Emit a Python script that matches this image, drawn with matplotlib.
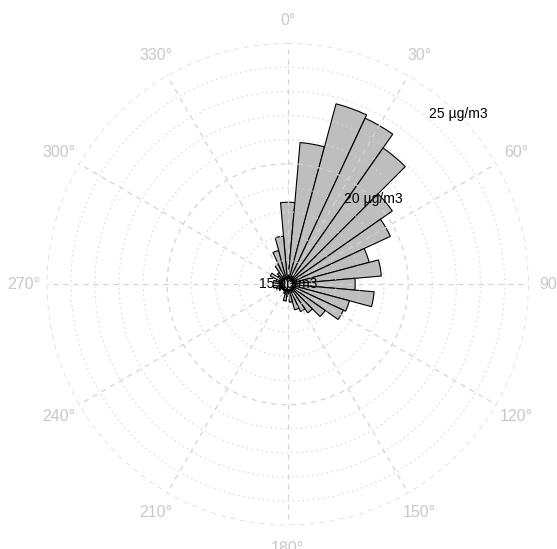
import numpy as np
import matplotlib.pyplot as plt

plt.rcParams.update({'font.size': 10, 'font.family': ['Liberation Sans', 'DejaVu Sans']})

# mean concentration by wind direction (10 degree bins)
directions = np.arange(0, 360, 10)
mean_conc = [18.4, 20.9, 22.75, 22.6, 21.9, 20.3, 19.7, 18.5, 18.9, 17.8,
             18.6, 17.65, 17.55, 16.9, 16.45, 16.25, 16.1, 15.75, 15.5, 15.7,
             15.4, 15.3, 15.3, 15.3, 15.4, 15.5, 15.6, 15.5, 15.6, 15.5,
             15.8, 15.5, 15.6, 15.9, 16.45, 17.0]

r_min, r_max = 15, 25
r_levels = np.arange(16, 26)
r_labels = [15, 20, 25]
angle_ticks = np.arange(0, 360, 30)

grid_col = '#d3d3d3'

fig = plt.figure(figsize=(5.57, 5.49), dpi=100)
ax = fig.add_axes([0.0838, 0.0433, 0.8654, 0.878], projection='polar')
ax.set_theta_zero_location('N')
ax.set_theta_direction(-1)
ax.set_ylim(r_min, r_max)

theta = np.deg2rad(directions)
heights = np.array(mean_conc) - r_min
ax.bar(theta, heights, width=np.deg2rad(10), bottom=r_min,
       color='#bebebe', edgecolor='black', linewidth=0.8, zorder=2)

# grid drawn over the bars, like the original
ax.grid(False)
ax.set_xticks([])
ax.set_yticks([])
ax.spines['polar'].set_visible(False)

circ = np.linspace(0, 2 * np.pi, 361)
for lev in r_levels:
    dash = (4, 4) if lev % 5 == 0 else (1, 3)
    ax.plot(circ, np.full_like(circ, lev), color=grid_col, lw=0.9,
            dashes=dash, zorder=3)
for a in angle_ticks:
    ax.plot([np.deg2rad(a)] * 2, [r_min, r_max], color=grid_col, lw=0.9,
            dashes=(4, 4), zorder=3)
    ax.text(np.deg2rad(a), r_min + (r_max - r_min) * 1.095, f"{a}\u00b0",
            color='#c8c8c8', ha='center', va='center', fontsize=11.5, clip_on=False)

for v in r_labels:
    ax.text(np.deg2rad(45), v, f"{v} \u00b5g/m3", ha='center', va='center',
            fontsize=10, zorder=4)

fig.savefig('out.png', dpi=100)
